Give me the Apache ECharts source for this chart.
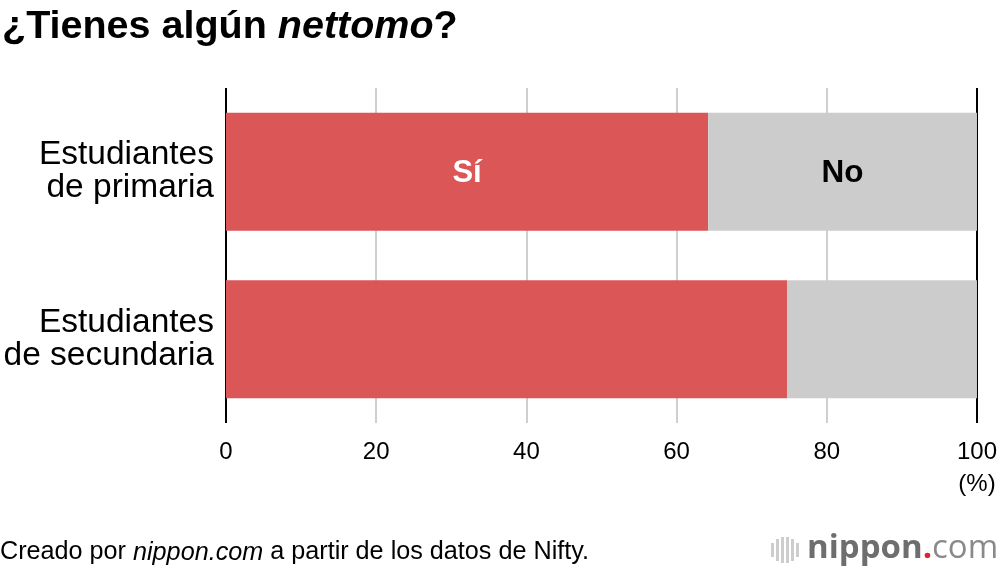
<!DOCTYPE html>
<html><head><meta charset="utf-8">
<script src="https://cdn.jsdelivr.net/npm/echarts@6/dist/echarts.min.js"></script>
<style>html,body{margin:0;padding:0;background:#fff}#c{width:1000px;height:570px}</style>
</head><body><div id="c"></div>
<script>
const categories = ['Estudiantes\nde primaria', 'Estudiantes\nde secundaria'];
const siValues = [64.2, 74.7];
const noValues = [35.8, 25.3];
const seriesNames = ['Sí', 'No'];
const xTicks = [0, 20, 40, 60, 80, 100];

const FONT = '"Liberation Sans", Arial, sans-serif';
const chart = echarts.init(document.getElementById('c'));
chart.setOption({
  backgroundColor: '#fff',
  animation: false,
  textStyle: { fontFamily: FONT },
  title: {
    text: '{b|¿Tienes algún }{i|nettomo}{b|?}',
    left: -3, top: 2,
    textStyle: {
      rich: {
        b: { fontSize: 39.5, fontWeight: 'bold', color: '#000', fontFamily: FONT },
        i: { fontSize: 39.5, fontWeight: 'bold', fontStyle: 'italic', color: '#000', fontFamily: FONT }
      }
    }
  },
  grid: { left: 226, right: 23, top: 88, bottom: 147, containLabel: false },
  xAxis: {
    type: 'value', min: 0, max: 100, interval: 20,
    axisLine: { show: false }, axisTick: { show: false },
    axisLabel: {
      color: '#000', fontSize: 24, margin: 13, fontFamily: FONT,
      formatter: v => v === 100 ? '100\n(%)' : String(v),
      lineHeight: 32
    },
    splitLine: { show: true, lineStyle: { color: ['#000', '#cfcfcf', '#cfcfcf', '#cfcfcf', '#cfcfcf', '#000'], width: 2 } }
  },
  yAxis: {
    type: 'category', data: categories, inverse: true,
    axisLine: { show: false }, axisTick: { show: false },
    axisLabel: { color: '#000', fontSize: 33.5, lineHeight: 33, margin: 12, align: 'right', fontFamily: FONT,
      verticalAlign: 'middle', padding: [6, 0, 0, 0] }
  },
  series: [
    {
      name: seriesNames[0], type: 'bar', stack: 's', data: siValues, barWidth: 118,
      itemStyle: { color: '#db5657' },
      label: { show: true, position: 'inside', offset: [0, 2], color: '#fff', fontSize: 31, fontWeight: 'bold', fontFamily: FONT,
        formatter: p => p.dataIndex === 0 ? p.seriesName : '' }
    },
    {
      name: seriesNames[1], type: 'bar', stack: 's', data: noValues, barWidth: 118,
      itemStyle: { color: '#cccccc' },
      label: { show: true, position: 'inside', offset: [0, 2], color: '#000', fontSize: 31.5, fontWeight: 'bold', fontFamily: FONT,
        formatter: p => p.dataIndex === 0 ? p.seriesName : '' }
    }
  ],
  graphic: [
    { type: 'text', left: 0, top: 540, style: {
      text: '{n|Creado por }{i|nippon.com}{n| a partir de los datos de Nifty.}',
      rich: {
        n: { fontSize: 25.2, fill: '#000', fontFamily: FONT },
        i: { fontSize: 25.2, fill: '#000', fontStyle: 'italic', fontFamily: FONT }
      } } },
    { type: 'group', left: 771, top: 532, children: [
      { type: 'rect', shape: { x: 0, y: 9, width: 3, height: 14 }, style: { fill: '#cdcdcd' } },
      { type: 'rect', shape: { x: 5, y: 5, width: 3, height: 22 }, style: { fill: '#cdcdcd' } },
      { type: 'rect', shape: { x: 10, y: 3, width: 3, height: 26 }, style: { fill: '#cdcdcd' } },
      { type: 'rect', shape: { x: 15, y: 3, width: 3, height: 26 }, style: { fill: '#cdcdcd' } },
      { type: 'rect', shape: { x: 20, y: 5, width: 3, height: 22 }, style: { fill: '#cdcdcd' } },
      { type: 'rect', shape: { x: 25, y: 9, width: 3, height: 14 }, style: { fill: '#cdcdcd' } },
      { type: 'text', x: 36, y: -2, style: {
        text: '{a|nippon}{d|.}{c|com}',
        rich: {
          a: { fontSize: 33, fontWeight: 'bold', fill: '#6e6e6e', fontFamily: '"Open Sans", sans-serif' },
          d: { fontSize: 33, fontWeight: 'bold', fill: '#e5212a', fontFamily: '"Open Sans", sans-serif' },
          c: { fontSize: 33, fill: '#8a8a8a', fontFamily: '"Open Sans", sans-serif' }
        } } }
    ] }
  ]
});
</script></body></html>
